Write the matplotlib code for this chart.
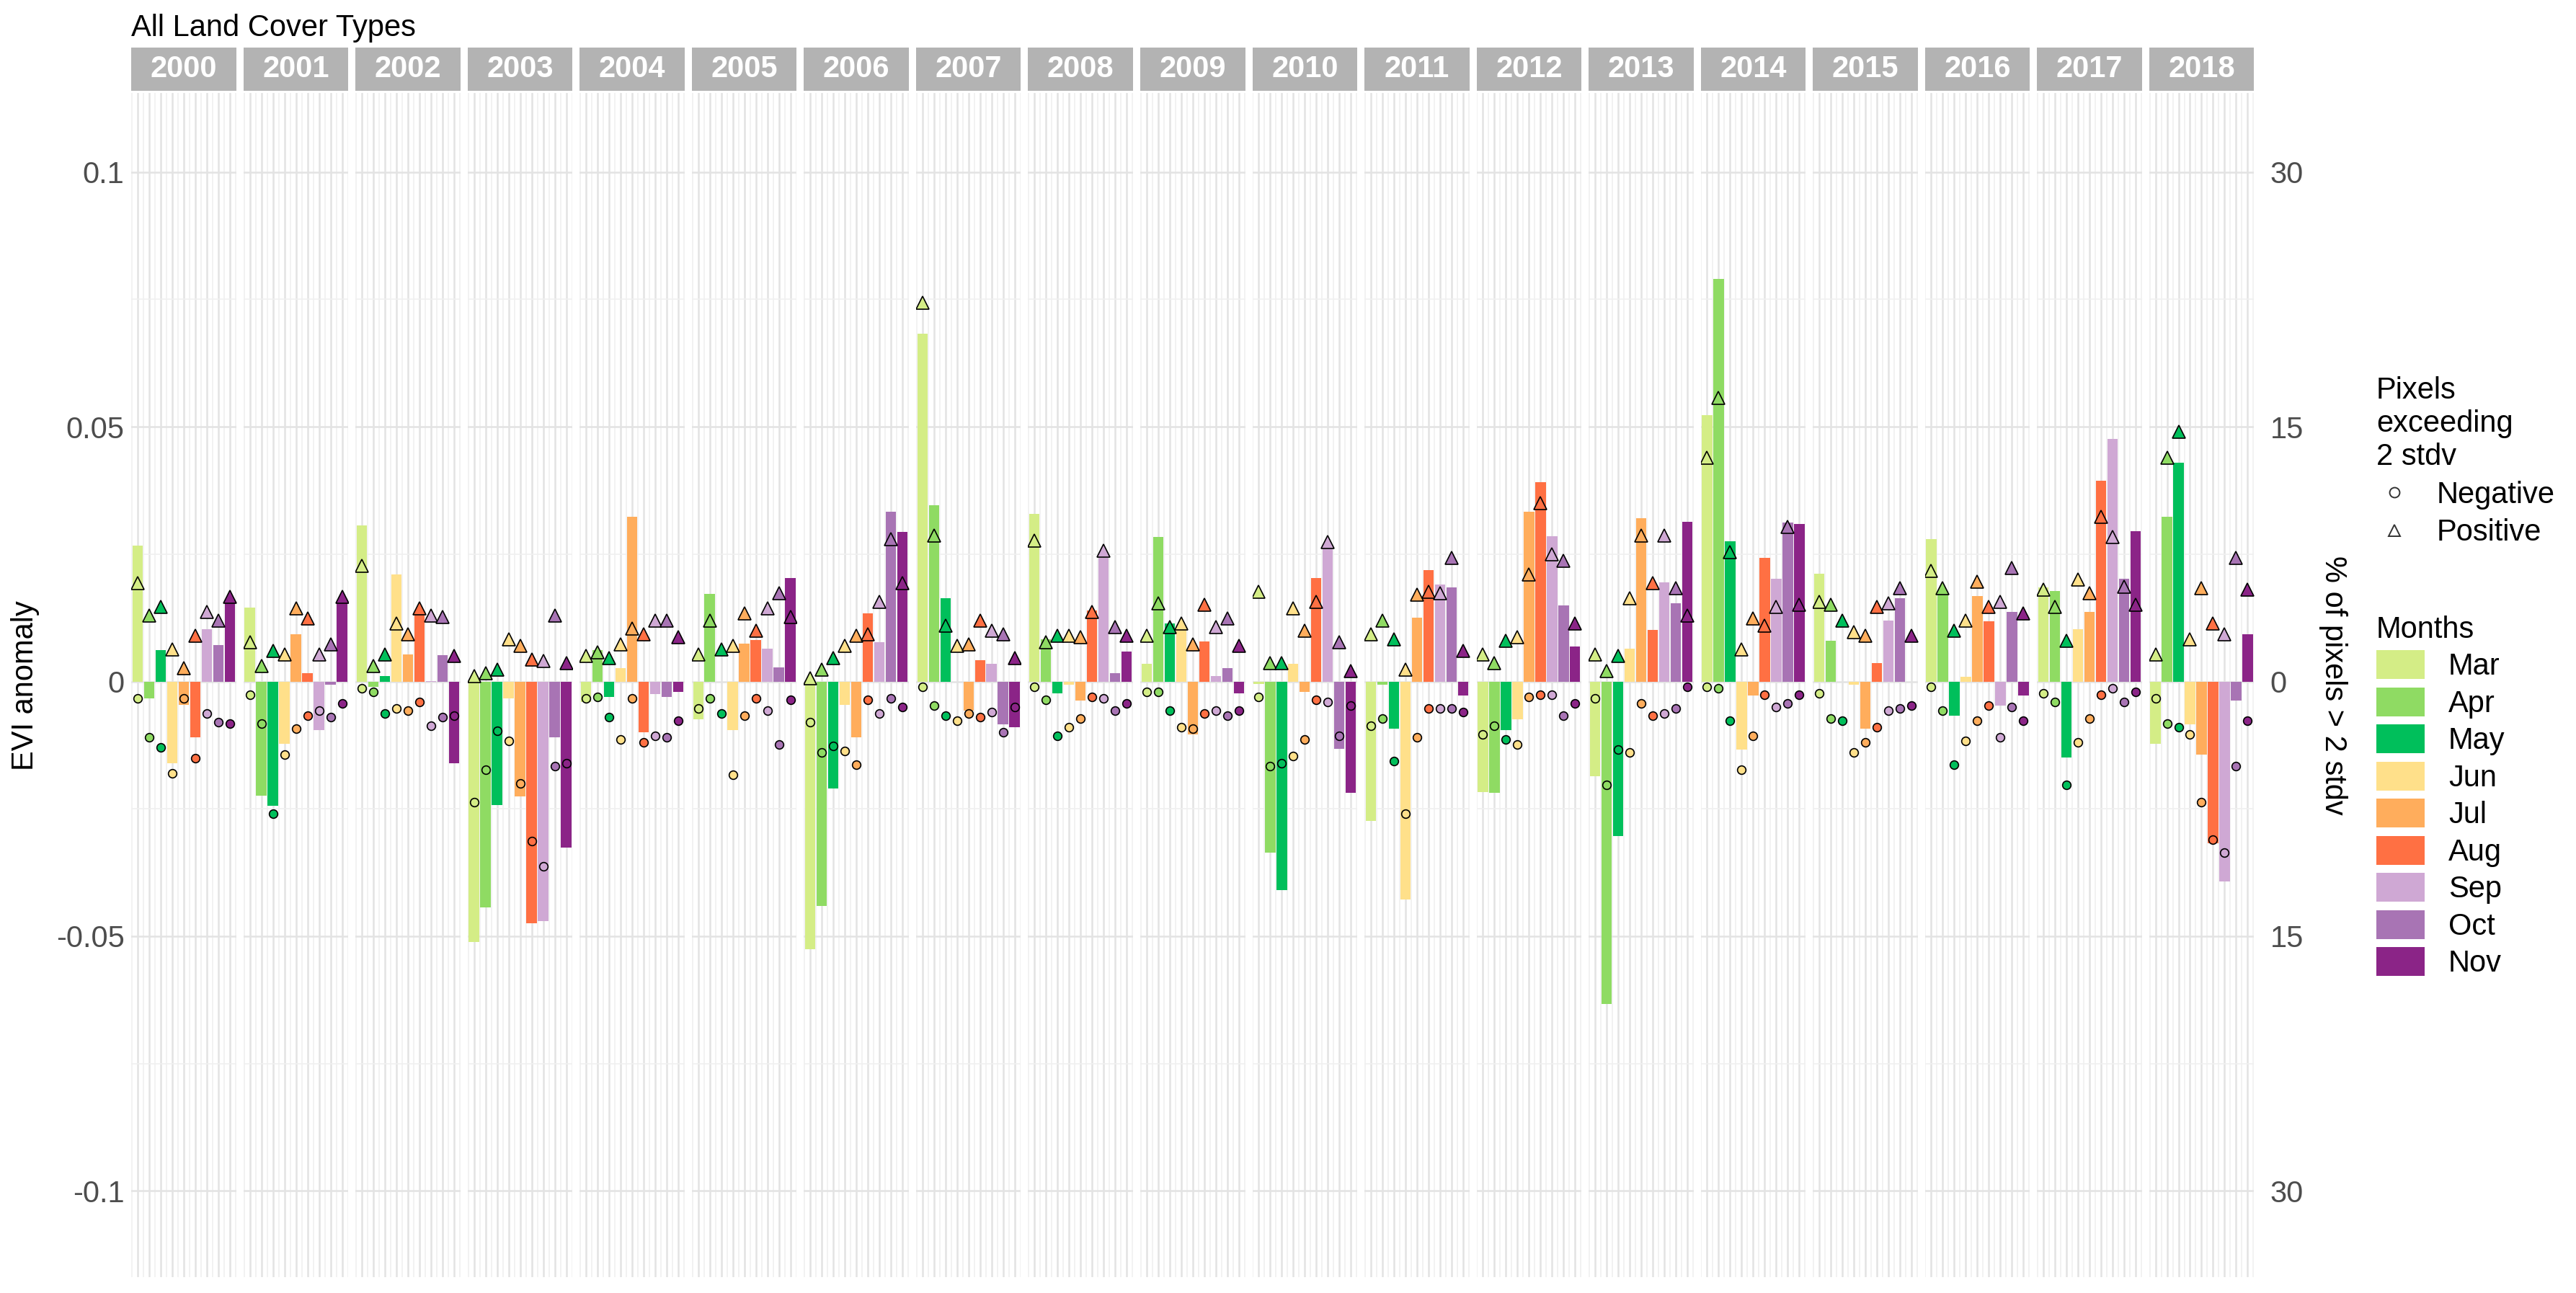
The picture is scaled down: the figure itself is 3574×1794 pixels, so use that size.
import matplotlib
matplotlib.use("Agg")
import matplotlib.pyplot as plt
import numpy as np
from matplotlib.lines import Line2D
from matplotlib.patches import Patch
from matplotlib.ticker import FuncFormatter

plt.rcParams['font.family'] = ['Liberation Sans', 'DejaVu Sans']

years = list(range(2000, 2019))
months = ["Mar", "Apr", "May", "Jun", "Jul", "Aug", "Sep", "Oct", "Nov"]
month_colors = ["#d4ed86", "#8fdb63", "#00bf5b", "#ffe08a", "#ffad5c",
                "#ff7043", "#cfa8d4", "#a874b4", "#8b2487"]

# EVI anomaly per year (rows) and month (cols)
evi = [
    [0.0267, -0.0033, 0.0062, -0.0161, -0.0046, -0.0110, 0.0103, 0.0072, 0.0158],
    [0.0145, -0.0224, -0.0244, -0.0123, 0.0093, 0.0016, -0.0096, -0.0006, 0.0158],
    [0.0307, -0.0011, 0.0011, 0.0210, 0.0053, 0.0134, 0.0001, 0.0052, -0.0161],
    [-0.0511, -0.0443, -0.0243, -0.0033, -0.0225, -0.0474, -0.0471, -0.0110, -0.0326],
    [-0.0041, 0.0062, -0.0031, 0.0026, 0.0323, -0.0100, -0.0025, -0.0031, -0.0021],
    [-0.0074, 0.0172, 0.0000, -0.0095, 0.0074, 0.0082, 0.0065, 0.0028, 0.0203],
    [-0.0525, -0.0441, -0.0210, -0.0046, -0.0110, 0.0134, 0.0077, 0.0333, 0.0293],
    [0.0682, 0.0346, 0.0163, 0.0000, -0.0057, 0.0042, 0.0034, -0.0084, -0.0090],
    [0.0329, 0.0083, -0.0023, -0.0007, -0.0038, 0.0139, 0.0243, 0.0016, 0.0059],
    [0.0034, 0.0284, 0.0114, 0.0103, -0.0104, 0.0079, 0.0010, 0.0026, -0.0023],
    [-0.0005, -0.0336, -0.0410, 0.0034, -0.0021, 0.0203, 0.0264, -0.0132, -0.0218],
    [-0.0274, -0.0007, -0.0093, -0.0428, 0.0125, 0.0219, 0.0191, 0.0184, -0.0027],
    [-0.0217, -0.0219, -0.0096, -0.0074, 0.0333, 0.0391, 0.0285, 0.0149, 0.0068],
    [-0.0186, -0.0633, -0.0303, 0.0064, 0.0320, 0.0101, 0.0194, 0.0154, 0.0313],
    [0.0523, 0.0790, 0.0275, -0.0133, -0.0028, 0.0242, 0.0201, 0.0312, 0.0309],
    [0.0211, 0.0080, 0.0000, -0.0006, -0.0092, 0.0036, 0.0120, 0.0164, 0.0000],
    [0.0280, 0.0173, -0.0067, 0.0009, 0.0167, 0.0118, -0.0047, 0.0136, -0.0028],
    [0.0184, 0.0177, -0.0149, 0.0103, 0.0137, 0.0394, 0.0476, 0.0201, 0.0295],
    [-0.0122, 0.0323, 0.0430, -0.0084, -0.0143, -0.0318, -0.0393, -0.0037, 0.0093],
]
# % of pixels exceeding +2 stdv
pct_pos = [
    [5.8, 3.9, 4.4, 1.9, 0.8, 2.7, 4.1, 3.6, 5.0],
    [2.3, 0.9, 1.8, 1.6, 4.3, 3.7, 1.6, 2.2, 5.0],
    [6.8, 0.9, 1.6, 3.4, 2.8, 4.3, 3.9, 3.8, 1.5],
    [0.3, 0.5, 0.7, 2.5, 2.1, 1.3, 1.2, 3.9, 1.1],
    [1.5, 1.7, 1.4, 2.2, 3.1, 2.8, 3.6, 3.6, 2.6],
    [1.6, 3.6, 1.9, 2.1, 4.0, 3.0, 4.3, 5.2, 3.8],
    [0.2, 0.7, 1.4, 2.1, 2.7, 2.8, 4.7, 8.4, 5.8],
    [22.3, 8.6, 3.3, 2.1, 2.2, 3.6, 3.0, 2.8, 1.4],
    [8.3, 2.3, 2.7, 2.7, 2.6, 4.1, 7.7, 3.2, 2.7],
    [2.7, 4.6, 3.2, 3.4, 2.2, 4.5, 3.2, 3.7, 2.1],
    [5.3, 1.1, 1.1, 4.3, 3.0, 4.7, 8.2, 2.3, 0.6],
    [2.8, 3.6, 2.5, 0.7, 5.1, 5.3, 5.2, 7.3, 1.8],
    [1.6, 1.1, 2.4, 2.6, 6.3, 10.5, 7.5, 7.1, 3.4],
    [1.6, 0.6, 1.5, 4.9, 8.6, 5.8, 8.6, 5.5, 3.9],
    [13.2, 16.7, 7.6, 1.9, 3.7, 3.3, 4.4, 9.1, 4.5],
    [4.7, 4.5, 3.6, 2.9, 2.7, 4.4, 4.6, 5.5, 2.7],
    [6.5, 5.5, 3.0, 3.6, 5.9, 4.4, 4.7, 6.7, 4.0],
    [5.4, 4.4, 2.4, 6.0, 5.2, 9.7, 8.5, 5.6, 4.5],
    [1.6, 13.2, 14.7, 2.5, 5.5, 3.4, 2.8, 7.3, 5.4],
]
# % of pixels exceeding -2 stdv
pct_neg = [
    [1.0, 3.3, 3.9, 5.4, 1.0, 4.5, 1.9, 2.4, 2.5],
    [0.8, 2.5, 7.8, 4.3, 2.8, 2.0, 1.7, 2.1, 1.3],
    [0.4, 0.6, 1.9, 1.6, 1.7, 1.2, 2.6, 2.1, 2.0],
    [7.1, 5.2, 2.9, 3.5, 6.0, 9.4, 10.9, 5.0, 4.8],
    [1.0, 0.9, 2.1, 3.4, 1.0, 3.6, 3.2, 3.3, 2.3],
    [1.6, 1.0, 1.9, 5.5, 2.0, 1.0, 1.7, 3.7, 1.1],
    [2.4, 4.2, 3.8, 4.1, 4.9, 1.1, 1.9, 1.0, 1.5],
    [0.3, 1.4, 2.0, 2.3, 1.9, 2.1, 1.8, 3.0, 1.5],
    [0.3, 1.1, 3.2, 2.7, 2.2, 0.9, 1.0, 1.7, 1.3],
    [0.6, 0.6, 1.7, 2.7, 2.8, 1.9, 1.7, 2.0, 1.7],
    [0.9, 5.0, 4.8, 4.4, 3.4, 1.1, 1.2, 3.2, 1.4],
    [2.6, 2.2, 4.7, 7.8, 3.3, 1.6, 1.6, 1.6, 1.8],
    [3.1, 2.6, 3.4, 3.7, 0.9, 0.8, 0.8, 2.0, 1.3],
    [1.0, 6.1, 4.0, 4.2, 1.3, 2.0, 1.9, 1.6, 0.3],
    [0.3, 0.4, 2.3, 5.2, 3.2, 0.8, 1.5, 1.3, 0.8],
    [0.7, 2.2, 2.3, 4.2, 3.6, 2.7, 1.7, 1.6, 1.4],
    [0.3, 1.7, 4.9, 3.5, 2.3, 1.4, 3.3, 1.5, 2.3],
    [0.7, 1.2, 6.1, 3.6, 2.2, 0.8, 0.4, 1.2, 0.6],
    [1.0, 2.5, 2.7, 3.1, 7.1, 9.3, 10.1, 5.0, 2.3],
]

SCALE = 0.05 / 15.0  # % -> EVI units on shared axis

W, H = 3574, 1794
fig = plt.figure(figsize=(W / 200, H / 200), dpi=200)
fig.patch.set_facecolor("white")

left, right = 0.051, 0.875
bottom, top = 0.012, 0.928
strip_h = 0.033
gap = 0.0028
n = len(years)
pw = (right - left - gap * (n - 1)) / n
ylim = (-0.117, 0.1155)
x = np.arange(len(months))

for i, yr in enumerate(years):
    x0 = left + i * (pw + gap)
    ax = fig.add_axes([x0, bottom, pw, top - bottom])
    ax.set_xlim(-0.55, 8.55)
    ax.set_ylim(*ylim)
    ax.set_facecolor("white")
    for s in ax.spines.values():
        s.set_visible(False)
    ax.set_yticks([-0.1, -0.05, 0, 0.05, 0.1])
    ax.set_yticks([-0.075, -0.025, 0.025, 0.075], minor=True)
    ax.set_xticks(x)
    ax.set_xticks(np.arange(-0.5, 8.6, 1.0), minor=True)
    ax.grid(True, which="major", color="#e3e3e3", lw=0.9)
    ax.grid(True, which="minor", color="#f0f0f0", lw=0.6)
    ax.set_axisbelow(True)
    ax.tick_params(which="both", length=0, labelbottom=False, labelleft=False)
    ax.bar(x, evi[i], width=0.9, color=month_colors, zorder=2)
    for j in range(len(months)):
        ax.plot(x[j], pct_pos[i][j] * SCALE, marker="^", ms=6.5, mfc=month_colors[j],
                mec="black", mew=0.6, ls="none", zorder=3)
        ax.plot(x[j], -pct_neg[i][j] * SCALE, marker="o", ms=4.2, mfc=month_colors[j],
                mec="black", mew=0.6, ls="none", zorder=3)
    if i == 0:
        ax.tick_params(labelleft=True, labelsize=15, labelcolor="#4d4d4d")
        ax.yaxis.set_major_formatter(FuncFormatter(lambda v, p: f"{v:g}"))
        ax.set_ylabel("EVI anomaly", fontsize=15, labelpad=8)
    if i == n - 1:
        sec = ax.secondary_yaxis("right", functions=(lambda v: v / SCALE, lambda p: p * SCALE))
        sec.set_yticks([-30, -15, 0, 15, 30])
        sec.yaxis.set_major_formatter(FuncFormatter(lambda v, p: f"{abs(v):g}"))
        sec.tick_params(length=0, labelsize=15, labelcolor="#4d4d4d", pad=8)
        for s in sec.spines.values():
            s.set_visible(False)
        sec.set_ylabel("% of pixels > 2 stdv", fontsize=15, rotation=-90, labelpad=22)
    sax = fig.add_axes([x0, top + 0.002, pw, strip_h])
    sax.set_facecolor("#b3b3b3")
    sax.set_xticks([]); sax.set_yticks([])
    for s in sax.spines.values():
        s.set_visible(False)
    sax.text(0.5, 0.5, str(yr), color="white", fontsize=15, fontweight="bold",
             ha="center", va="center", transform=sax.transAxes)

fig.text(left, top + strip_h + 0.006, "All Land Cover Types", fontsize=15, ha="left", va="bottom")

h1 = [Line2D([], [], marker="o", ls="none", mfc="white", mec="#333333", ms=5, mew=0.7),
      Line2D([], [], marker="^", ls="none", mfc="white", mec="#333333", ms=6, mew=0.7)]
leg1 = fig.legend(h1, ["Negative", "Positive"], title="Pixels\nexceeding\n2 stdv",
                  loc="upper left", bbox_to_anchor=(0.912, 0.73), frameon=False,
                  fontsize=15, title_fontsize=15, handlelength=1.2, handletextpad=0.8,
                  labelspacing=0.3)
leg1._legend_box.align = "left"
h2 = [Patch(facecolor=c, edgecolor="none") for c in month_colors]
leg2 = fig.legend(h2, months, title="Months", loc="upper left",
                  bbox_to_anchor=(0.912, 0.545), frameon=False, fontsize=15,
                  title_fontsize=15, handlelength=1.6, handleheight=1.1,
                  handletextpad=0.8, labelspacing=0.2)
leg2._legend_box.align = "left"

fig.savefig("out.png", dpi=200, facecolor="white")
